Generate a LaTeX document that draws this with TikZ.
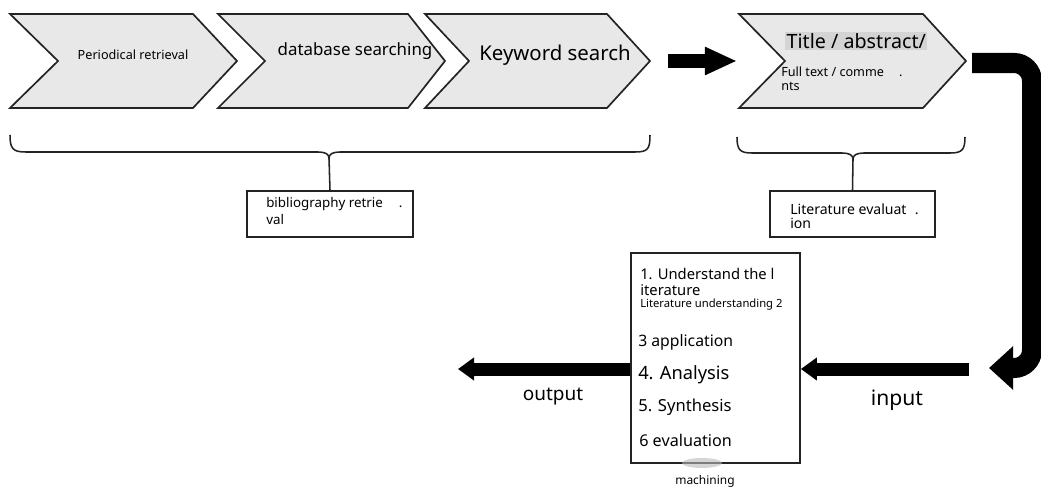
\documentclass[tikz,border=0pt]{standalone}
\usepackage{fontspec}
\setmainfont{Noto Sans}
\usetikzlibrary{arrows.meta,positioning,calc}
\definecolor{chevFill}{RGB}{232,232,232}
\definecolor{hlGray}{RGB}{212,212,212}
\definecolor{lineDark}{RGB}{35,35,35}
\newcommand{\fs}[1]{\fontsize{#1}{#1}\selectfont}
% chevron: left x, notch x, right-top x, tip x
\newcommand{\chevron}[4]{%
  \draw[chev] (#1,14) -- (#3,14) -- (#4,61) -- (#3,108) -- (#1,108) -- (#2,61) -- cycle;}

\begin{document}
\begin{tikzpicture}[x=0.025cm, y=-0.025cm,
    chev/.style={fill=chevFill, draw=lineDark, line width=1.2pt, line join=miter},
    bracepath/.style={draw=lineDark, line width=1.1pt},
    labelbox/.style={draw=lineDark, line width=1.2pt, fill=white, inner sep=0pt},
    fatarrow/.style={line width=0.35cm, -{Triangle[length=0.8cm, width=0.65cm]}},
    slimarrow/.style={line width=0.325cm, -{Triangle[length=0.4cm, width=0.55cm]}},
    txt/.style={inner sep=0pt, anchor=west, align=left}]
  \useasboundingbox (0,0) rectangle (1041,499);
  % --- search chain ---
  \chevron{10}{58}{193}{237}
  \chevron{218}{265}{408}{445}
  \chevron{425}{469}{607}{650}
  \chevron{739}{785}{923}{966}
  \node[inner sep=0pt, font=\fs{9}] (periodical) at (133,55) {Periodical retrieval};
  \node[inner sep=0pt, font=\fs{12}] (database) at (355,51) {database searching};
  \node[inner sep=0pt, font=\fs{14.5}] (keyword) at (555,55) {Keyword search};
  \node[txt, fill=hlGray, inner sep=1pt, font=\fs{14}] (title) at (785,41) {Title / abstract/};
  \node[txt, font=\fontsize{9}{10}\selectfont] (fulltext) at (781,79) {Full text / comme\hspace{1.2em}.\\nts};
  % --- arrow to evaluation ---
  \coordinate (topS) at (668,61);
  \coordinate (topE) at (737,61);
  \draw[fatarrow] (topS) -- (topE);
  % --- braces ---
  \coordinate (cuspL) at (329,158);
  \coordinate (cuspR) at (853,159);
  \draw[bracepath] (10,135) .. controls (10,149) and (13,152) .. (26,152) -- (318,152)
    .. controls (325,152) and (329,154) .. (cuspL)
    .. controls (329,154) and (333,152) .. (340,152) -- (635,152)
    .. controls (648,152) and (650,149) .. (650,135);
  \draw[bracepath] (737,137) .. controls (737,150) and (740,153) .. (752,153) -- (842,153)
    .. controls (849,153) and (853,155) .. (cuspR)
    .. controls (853,155) and (857,153) .. (864,153) -- (950,153)
    .. controls (962,153) and (965,150) .. (965,137);
  \node[labelbox, minimum width=4.15cm, minimum height=1.15cm] (bib) at (330,214) {};
  \node[txt, font=\fontsize{9.5}{12}\selectfont] (bibtext) at (266,211) {bibliography retrie\hspace{1.2em}.\\val};
  \node[labelbox, minimum width=4.125cm, minimum height=1.15cm] (evalbox) at (852.5,214) {};
  \node[txt, font=\fontsize{10}{10}\selectfont] (evaltext) at (790,216) {Literature evaluat\hspace{0.6em}.\\ion};
  \draw[bracepath] (cuspL) -- (bib.north);
  \draw[bracepath] (cuspR) -- (evalbox.north);
  % --- processing box ---
  \node[labelbox, minimum width=4.225cm, minimum height=5.25cm] (proc) at (715.5,358) {};
  \node[txt, font=\fontsize{10.5}{11}\selectfont] (step1) at (640,282) {1. Understand the l\\iterature};
  \node[txt, font=\fs{8}] (step2) at (640,305) {Literature understanding 2};
  \node[txt, font=\fs{11.2}] (step3) at (638,342) {3 application};
  \node[txt, font=\fs{13}] (step4) at (638,375) {4. Analysis};
  \node[txt, font=\fs{11.8}] (step5) at (638,407) {5. Synthesis};
  \node[txt, font=\fs{11.5}] (step6) at (639,440) {6 evaluation};
  \fill[gray!55, opacity=.6] (702,463) ellipse (20 and 5);
  \node[inner sep=0pt, font=\fs{8.5}] (machining) at (705,481) {machining};
  % --- input / output ---
  \coordinate (outtip) at (458,369);
  \coordinate (instart) at (969,369);
  \draw[slimarrow] (proc.west |- outtip) -- (outtip);
  \draw[slimarrow] (instart) -- (proc.east |- instart);
  \node[inner sep=0pt, font=\fs{13.5}] (output) at (553,397) {output};
  \node[inner sep=0pt, font=\fs{15}] (input) at (897,400) {input};
  % --- return arrow ---
  \coordinate (bendS) at (972,63);
  \coordinate (bendE) at (989,368);
  \draw[line width=0.5cm, rounded corners=0.45cm, -{Triangle[length=0.6cm, width=1.05cm]}]
    (bendS) -- (1032,63) -- (1032,368) -- (bendE);
\end{tikzpicture}
\end{document}
